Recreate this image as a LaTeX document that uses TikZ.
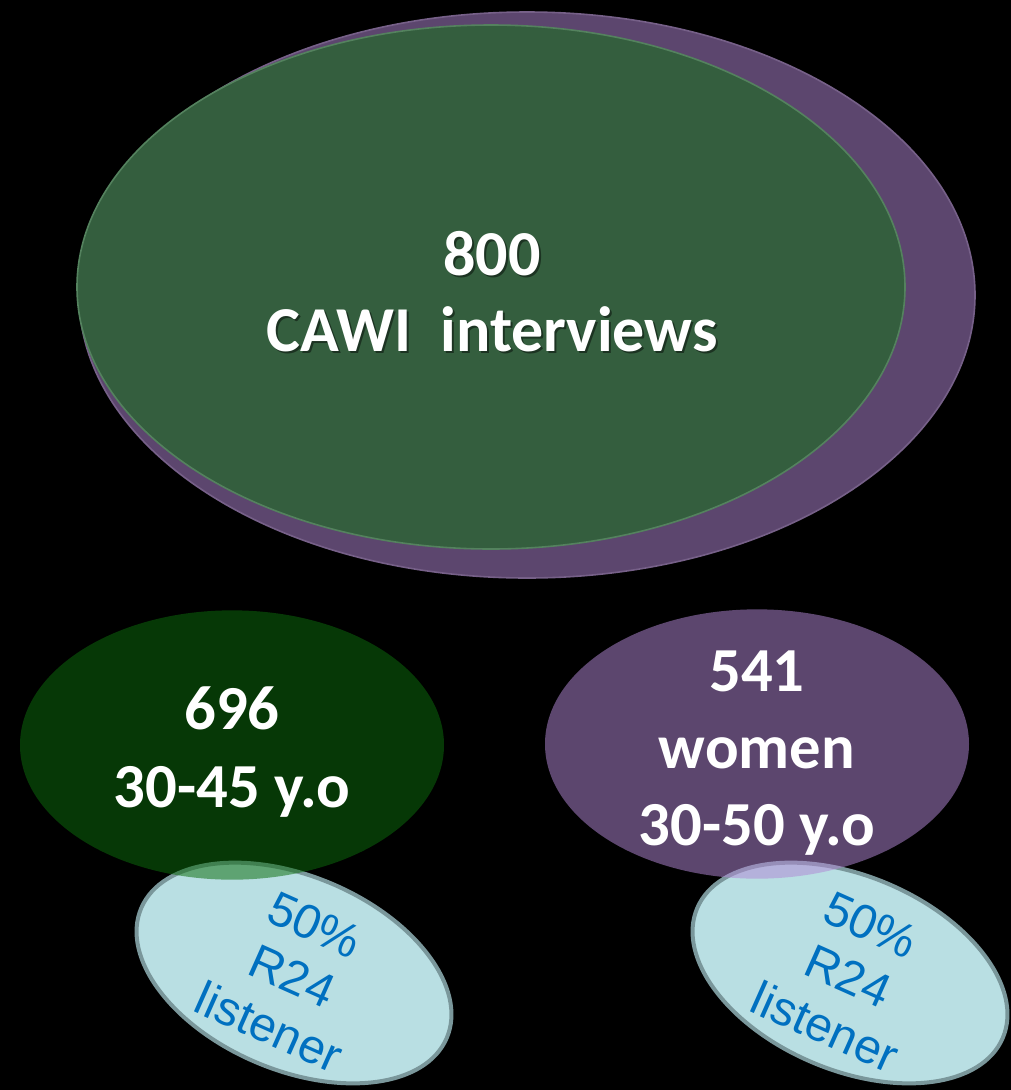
\documentclass[tikz,border=0pt]{standalone}
\usepackage{fontspec}
\usetikzlibrary{shapes.geometric}
\newfontfamily\headfont{Carlito}
\newfontfamily\notefont{Liberation Sans}
\definecolor{bigpurple}{RGB}{92,70,110}
\definecolor{bigpurplerim}{RGB}{118,96,136}
\definecolor{biggreen}{RGB}{52,94,62}
\definecolor{biggreenrim}{RGB}{84,130,94}
\definecolor{agegreen}{RGB}{12,108,12}
\definecolor{womenpurple}{RGB}{177,135,212}
\definecolor{listenfill}{RGB}{185,223,227}
\definecolor{listenrim}{RGB}{122,151,155}
\definecolor{listentext}{RGB}{0,112,192}
\tikzset{
  blob/.style={ellipse, inner sep=0pt, outer sep=0pt},
  bigtext/.style={text=white, align=center, font=\headfont\bfseries\fontsize{48}{57}\selectfont},
  smalltext/.style={text=white, align=center, font=\headfont\bfseries\fontsize{47}{58}\selectfont},
  notetext/.style={text=listentext, align=center, font=\notefont\fontsize{36}{42}\selectfont},
  shadowtext/.style={bigtext, text=black, opacity=0.45},
  listener/.style={blob, fill=listenfill, draw=listenrim, line width=3pt,
                   minimum width=249pt, minimum height=145.5pt, rotate=-23},
  subgroup/.style={blob, fill opacity=0.52, minimum width=318pt, minimum height=202pt}
}
\begin{document}
\begin{tikzpicture}[x=0.75pt, y=-0.75pt]
  % black page
  \fill[black] (0,0) rectangle (1011,1090);
  \useasboundingbox (0,0) rectangle (1011,1090);

  % total sample: purple disc behind the green one
  \node[blob, fill=bigpurple, draw=bigpurplerim, line width=1.2pt,
        minimum width=672pt, minimum height=424.5pt] (all) at (527,295) {};
  \node[blob, fill=biggreen, draw=biggreenrim, line width=1.2pt,
        minimum width=621pt, minimum height=393pt] (cawi) at (491,287) {};

  % R24 listener shares
  \node[listener] (lisL) at (294,973) {};
  \node[listener] (lisR) at (850,973) {};

  % target groups, translucent over the listener ovals
  \node[subgroup, fill=agegreen] (age) at (232,745) {};
  \node[subgroup, fill=womenpurple] (women) at (757,744) {};

  % labels
  \node[shadowtext] at ([shift={(1.5pt,-1.5pt)}]492,292) {800\\CAWI\ \ interviews};
  \node[bigtext] (cawilabel) at (492,292) {800\\CAWI\ \ interviews};
  \node[smalltext] (agelabel) at (232,752) {696\\30-45 y.o};
  \node[smalltext] (womenlabel) at (757,753) {541\\women\\30-50 y.o};
  \node[notetext, rotate=-24] (lisLlabel) at (292,976) {50\%\\R24\\listener};
  \node[notetext, rotate=-24] (lisRlabel) at (848,976) {50\%\\R24\\listener};
\end{tikzpicture}
\end{document}
